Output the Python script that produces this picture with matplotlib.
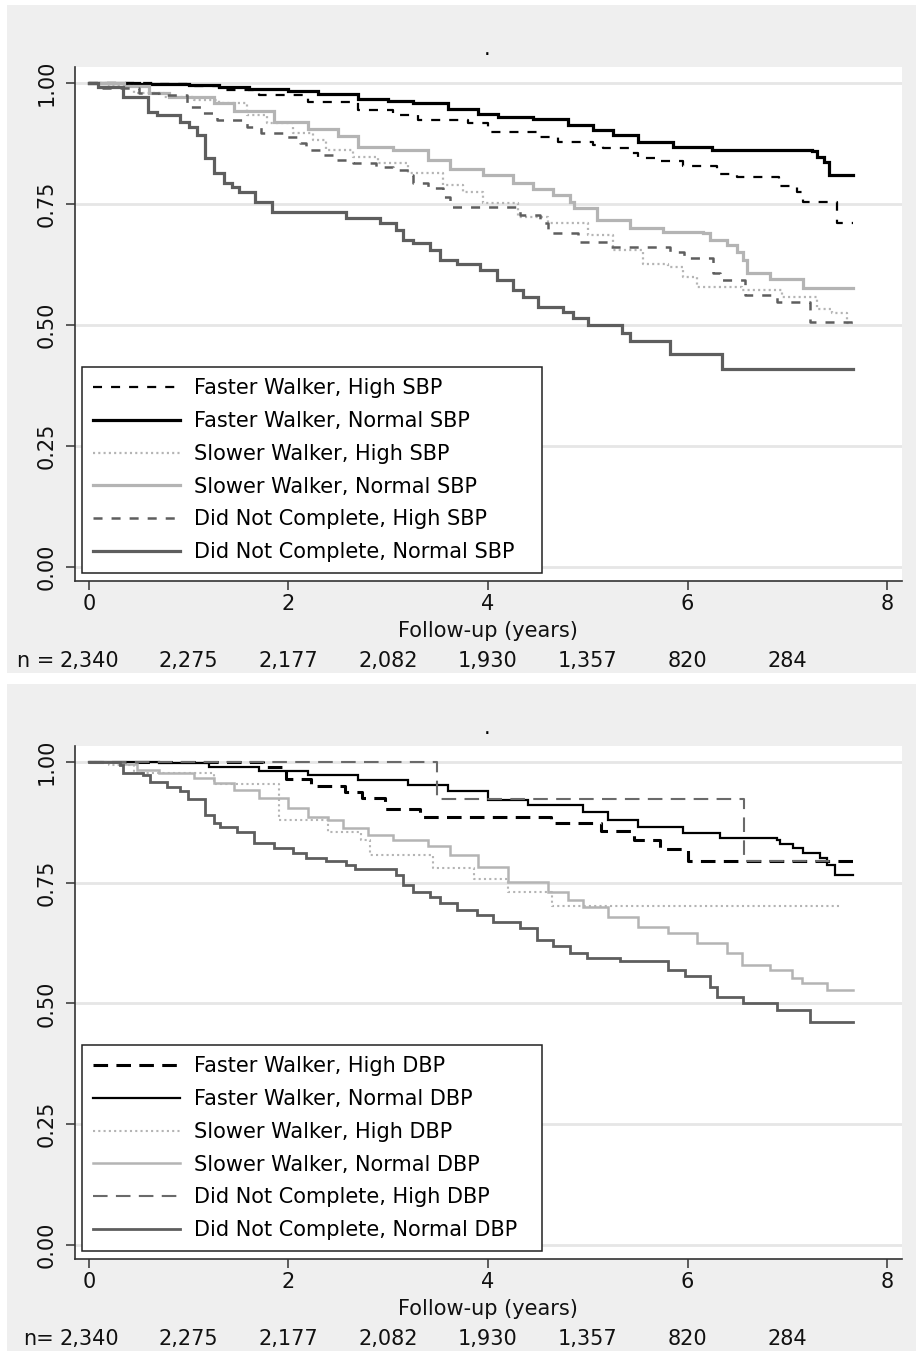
import matplotlib
matplotlib.use("Agg")
import matplotlib.pyplot as plt
from matplotlib.patches import Rectangle

plt.rcParams['font.family'] = ['DejaVu Sans', 'Liberation Sans']
plt.rcParams['lines.scale_dashes'] = False

# ==========================
# Data: Kaplan-Meier curves
# ==========================
# --- top panel: systolic blood pressure ---
sbp_fast_high_t = [0, 0.70, 1.00, 1.30, 1.70, 2.20, 2.70, 3.05, 3.30, 3.80, 4.00, 4.50, 4.70,
                   5.05, 5.15, 5.42, 5.50, 5.70, 5.95, 6.30, 6.50, 6.92, 7.10, 7.16, 7.50, 7.66]
sbp_fast_high_s = [1.000, 0.998, 0.993, 0.985, 0.975, 0.961, 0.944, 0.934, 0.924, 0.917, 0.899, 0.888, 0.879,
                   0.872, 0.865, 0.855, 0.846, 0.839, 0.828, 0.811, 0.806, 0.787, 0.775, 0.755, 0.711, 0.711]

sbp_fast_norm_t = [0, 0.50, 1.00, 1.30, 1.60, 2.00, 2.30, 2.70, 3.00, 3.25, 3.60, 3.90, 4.10,
                   4.45, 4.80, 5.05, 5.25, 5.50, 5.85, 6.25, 7.25, 7.30, 7.37, 7.42, 7.66]
sbp_fast_norm_s = [1.000, 0.998, 0.995, 0.991, 0.987, 0.983, 0.978, 0.967, 0.963, 0.958, 0.947, 0.936, 0.930,
                   0.925, 0.914, 0.903, 0.892, 0.879, 0.868, 0.862, 0.860, 0.848, 0.837, 0.810, 0.810]

sbp_slow_high_t = [0, 0.20, 0.45, 0.75, 1.05, 1.30, 1.58, 1.78, 2.05, 2.25, 2.38, 2.65, 2.90, 3.20, 3.55,
                   3.75, 3.95, 4.30, 4.60, 5.00, 5.25, 5.55, 5.80, 5.95, 6.10, 6.55, 6.95, 7.30, 7.45, 7.60, 7.66]
sbp_slow_high_s = [1.000, 0.993, 0.980, 0.972, 0.965, 0.958, 0.934, 0.917, 0.896, 0.882, 0.862, 0.848, 0.834,
                   0.813, 0.789, 0.775, 0.751, 0.724, 0.710, 0.686, 0.655, 0.627, 0.620, 0.600, 0.579, 0.572,
                   0.558, 0.534, 0.525, 0.504, 0.504]

sbp_slow_norm_t = [0, 0.35, 0.60, 0.80, 1.25, 1.45, 1.85, 2.20, 2.50, 2.70, 3.05, 3.40, 3.62, 3.95, 4.25,
                   4.45, 4.65, 4.82, 4.86, 5.09, 5.42, 5.75, 6.16, 6.23, 6.40, 6.50, 6.56, 6.60, 6.83, 7.16, 7.66]
sbp_slow_norm_s = [1.000, 0.994, 0.979, 0.972, 0.958, 0.942, 0.920, 0.904, 0.890, 0.868, 0.862, 0.841, 0.822,
                   0.810, 0.793, 0.780, 0.768, 0.755, 0.741, 0.717, 0.700, 0.692, 0.689, 0.676, 0.665, 0.651,
                   0.634, 0.607, 0.596, 0.576, 0.576]

sbp_dnc_high_t = [0, 0.10, 0.50, 0.70, 0.98, 1.14, 1.28, 1.58, 1.72, 1.98, 2.12, 2.18, 2.35, 2.48, 2.65,
                  2.88, 3.05, 3.22, 3.25, 3.40, 3.55, 3.62, 4.32, 4.52, 4.60, 4.90, 5.22, 5.82, 5.96, 6.26,
                  6.33, 6.58, 6.90, 7.23, 7.66]
sbp_dnc_high_s = [1.000, 0.990, 0.979, 0.975, 0.951, 0.937, 0.924, 0.910, 0.896, 0.889, 0.875, 0.862, 0.851,
                  0.841, 0.834, 0.827, 0.820, 0.810, 0.793, 0.782, 0.765, 0.744, 0.727, 0.710, 0.690, 0.672,
                  0.662, 0.651, 0.638, 0.607, 0.593, 0.562, 0.548, 0.507, 0.507]

sbp_dnc_norm_t = [0, 0.09, 0.34, 0.59, 0.68, 0.91, 1.00, 1.08, 1.16, 1.25, 1.35, 1.43, 1.50, 1.66, 1.83,
                  2.58, 2.92, 3.08, 3.15, 3.25, 3.42, 3.52, 3.69, 3.92, 4.09, 4.25, 4.35, 4.50, 4.75, 4.85,
                  5.00, 5.34, 5.42, 5.82, 6.35, 7.66]
sbp_dnc_norm_s = [1.000, 0.991, 0.972, 0.941, 0.934, 0.920, 0.910, 0.893, 0.844, 0.813, 0.793, 0.786, 0.775,
                  0.755, 0.734, 0.720, 0.710, 0.696, 0.676, 0.670, 0.655, 0.634, 0.627, 0.614, 0.593, 0.572,
                  0.558, 0.538, 0.527, 0.514, 0.500, 0.483, 0.466, 0.441, 0.408, 0.408]

# --- bottom panel: diastolic blood pressure ---
dbp_fast_high_t = [0, 1.74, 1.98, 2.23, 2.57, 2.74, 2.97, 3.32, 4.63, 5.13, 5.46, 5.72, 6.00, 7.66]
dbp_fast_high_s = [1.000, 0.990, 0.964, 0.951, 0.938, 0.925, 0.903, 0.887, 0.873, 0.858, 0.839, 0.819, 0.794, 0.794]

dbp_fast_norm_t = [0, 0.70, 1.20, 1.70, 2.20, 2.70, 3.20, 3.60, 4.00, 4.40, 4.95, 5.20, 5.50, 5.95,
                   6.33, 6.90, 6.93, 7.06, 7.16, 7.33, 7.40, 7.48, 7.66]
dbp_fast_norm_s = [1.000, 0.998, 0.990, 0.982, 0.973, 0.963, 0.952, 0.940, 0.921, 0.911, 0.897, 0.880, 0.866,
                   0.852, 0.842, 0.839, 0.830, 0.821, 0.811, 0.801, 0.787, 0.765, 0.765]

dbp_slow_high_t = [0, 0.20, 0.45, 1.25, 1.90, 2.40, 2.73, 2.82, 3.45, 3.86, 4.20, 4.64, 7.55]
dbp_slow_high_s = [1.000, 0.993, 0.977, 0.954, 0.880, 0.856, 0.839, 0.807, 0.781, 0.757, 0.731, 0.702, 0.702]

dbp_slow_norm_t = [0, 0.30, 0.48, 0.70, 1.05, 1.25, 1.45, 1.70, 2.00, 2.20, 2.40, 2.55, 2.80, 3.05, 3.40,
                   3.62, 3.90, 4.20, 4.60, 4.80, 4.95, 5.20, 5.50, 5.80, 6.10, 6.40, 6.55, 6.83, 7.05, 7.15,
                   7.40, 7.66]
dbp_slow_norm_s = [1.000, 0.996, 0.983, 0.977, 0.966, 0.956, 0.942, 0.925, 0.904, 0.887, 0.880, 0.863, 0.849,
                   0.839, 0.825, 0.807, 0.783, 0.752, 0.731, 0.714, 0.700, 0.680, 0.659, 0.645, 0.625, 0.604,
                   0.580, 0.569, 0.552, 0.542, 0.528, 0.528]

dbp_dnc_high_t = [0, 3.49, 6.57, 7.45]
dbp_dnc_high_s = [1.000, 0.924, 0.794, 0.794]

dbp_dnc_norm_t = [0, 0.31, 0.34, 0.54, 0.61, 0.78, 0.91, 0.99, 1.16, 1.25, 1.31, 1.48, 1.65, 1.85, 2.05,
                  2.18, 2.38, 2.58, 2.67, 3.08, 3.15, 3.25, 3.42, 3.52, 3.69, 3.89, 4.05, 4.32, 4.49, 4.65,
                  4.82, 4.99, 5.32, 5.80, 5.97, 6.23, 6.30, 6.56, 6.90, 7.23, 7.66]
dbp_dnc_norm_s = [1.000, 0.994, 0.978, 0.973, 0.959, 0.949, 0.939, 0.923, 0.890, 0.873, 0.865, 0.856, 0.832,
                  0.821, 0.811, 0.801, 0.794, 0.787, 0.778, 0.766, 0.745, 0.731, 0.721, 0.707, 0.694, 0.683,
                  0.669, 0.656, 0.631, 0.618, 0.604, 0.594, 0.587, 0.569, 0.556, 0.535, 0.514, 0.500, 0.487,
                  0.462, 0.462]

sbp_labels = ["Faster Walker, High SBP", "Faster Walker, Normal SBP",
              "Slower Walker, High SBP", "Slower Walker, Normal SBP",
              "Did Not Complete, High SBP", "Did Not Complete, Normal SBP"]
dbp_labels = ["Faster Walker, High DBP", "Faster Walker, Normal DBP",
              "Slower Walker, High DBP", "Slower Walker, Normal DBP",
              "Did Not Complete, High DBP", "Did Not Complete, Normal DBP"]

risk_times = [0, 1, 2, 3, 4, 5, 6, 7]
risk_counts = ["2,340", "2,275", "2,177", "2,082", "1,930", "1,357", "820", "284"]

x_ticks = [0, 2, 4, 6, 8]
y_ticks = [0.00, 0.25, 0.50, 0.75, 1.00]

# ==========================
# Styles
# ==========================
DARK = "#5e5e5e"
LIGHT = "#b4b4b4"
sbp_styles = [
    dict(color="black", lw=1.6, dashes=(6.5, 6.5)),
    dict(color="black", lw=2.3, ls="-"),
    dict(color=LIGHT, lw=1.6, dashes=(1.5, 2.3)),
    dict(color=LIGHT, lw=2.3, ls="-"),
    dict(color=DARK, lw=1.8, dashes=(6.5, 6.5)),
    dict(color=DARK, lw=2.3, ls="-"),
]
dbp_styles = [
    dict(color="black", lw=2.2, dashes=(10.5, 6.0)),
    dict(color="black", lw=1.6, ls="-"),
    dict(color=LIGHT, lw=1.5, dashes=(1.5, 2.3)),
    dict(color=LIGHT, lw=1.8, ls="-"),
    dict(color="#6a6a6a", lw=1.5, dashes=(10.5, 6.0)),
    dict(color=DARK, lw=2.0, ls="-"),
]

FS = 15
W, H = 916, 1351
fig = plt.figure(figsize=(W / 100, H / 100), dpi=100, facecolor="white")

# grey graph regions (Stata style), kept behind the axes
fig.patches.append(Rectangle((7 / W, 1 - 673 / H), (W - 7) / W, 668 / H,
                             transform=fig.transFigure, facecolor="#efefef", edgecolor="none", zorder=-10))
fig.patches.append(Rectangle((7 / W, 0), (W - 7) / W, (H - 684) / H,
                             transform=fig.transFigure, facecolor="#efefef", edgecolor="none", zorder=-10))


def draw_panel(top_px, bottom_px, curves, styles, labels, prefix, dot_y):
    ax = fig.add_axes([75 / W, 1 - bottom_px / H, 827 / W, (bottom_px - top_px) / H])
    ax.set_facecolor("white")

    for (t, s), st, lab in zip(curves, styles, labels):
        ax.plot(t, s, drawstyle="steps-post", label=lab, solid_joinstyle="miter", **st)

    ax.set_xlim(-0.14, 8.15)
    ax.set_ylim(-0.029, 1.033)
    ax.set_xticks(x_ticks)
    ax.set_xticklabels([str(v) for v in x_ticks])
    ax.set_yticks(y_ticks)
    ax.set_yticklabels([f"{v:.2f}" for v in y_ticks], rotation=90, va="center")

    ax.yaxis.grid(True, color="#e6e6e6", lw=2.0)
    ax.set_axisbelow(True)
    for side in ["top", "right"]:
        ax.spines[side].set_visible(False)
    for side in ["left", "bottom"]:
        ax.spines[side].set_color("#333333")
        ax.spines[side].set_linewidth(1.2)
    ax.tick_params(axis="both", direction="out", length=6.5, width=1.1, color="#333333",
                   labelsize=FS, labelcolor="#111111")
    ax.tick_params(axis="x", pad=2.5)
    ax.tick_params(axis="y", pad=6.5)

    ax.set_xlabel("Follow-up (years)", fontsize=FS, color="#111111")
    ax.xaxis.set_label_coords(0.4994, -0.077)

    # number at risk row
    n_y = -0.156
    for t, n in zip(risk_times, risk_counts):
        ax.text(t, n_y, n, transform=ax.get_xaxis_transform(), ha="center", va="center",
                fontsize=FS, color="#111111", clip_on=False)
    ax.annotate(prefix, xy=(risk_times[0], n_y), xycoords=ax.get_xaxis_transform(),
                xytext=(-25, 0), textcoords="offset points", ha="right", va="center",
                fontsize=FS, color="#111111")

    leg = ax.legend(loc="lower left", bbox_to_anchor=(0.0085, 0.0155, 0.556, 0.40), mode="expand",
                    borderaxespad=0, frameon=True, fancybox=False, edgecolor="#222222",
                    framealpha=1, fontsize=FS, handlelength=4.17, handletextpad=0.67,
                    labelspacing=0.61, borderpad=0.53)
    leg.get_frame().set_linewidth(1.1)

    fig.text(487 / W, 1 - dot_y / H, ".", ha="center", va="baseline", fontsize=FS)
    return ax


sbp_curves = [(sbp_fast_high_t, sbp_fast_high_s), (sbp_fast_norm_t, sbp_fast_norm_s),
              (sbp_slow_high_t, sbp_slow_high_s), (sbp_slow_norm_t, sbp_slow_norm_s),
              (sbp_dnc_high_t, sbp_dnc_high_s), (sbp_dnc_norm_t, sbp_dnc_norm_s)]
dbp_curves = [(dbp_fast_high_t, dbp_fast_high_s), (dbp_fast_norm_t, dbp_fast_norm_s),
              (dbp_slow_high_t, dbp_slow_high_s), (dbp_slow_norm_t, dbp_slow_norm_s),
              (dbp_dnc_high_t, dbp_dnc_high_s), (dbp_dnc_norm_t, dbp_dnc_norm_s)]

draw_panel(67, 581, sbp_curves, sbp_styles, sbp_labels, "n =", 55)
draw_panel(746, 1259, dbp_curves, dbp_styles, dbp_labels, "n=", 734)

fig.savefig("out.png", dpi=100)
